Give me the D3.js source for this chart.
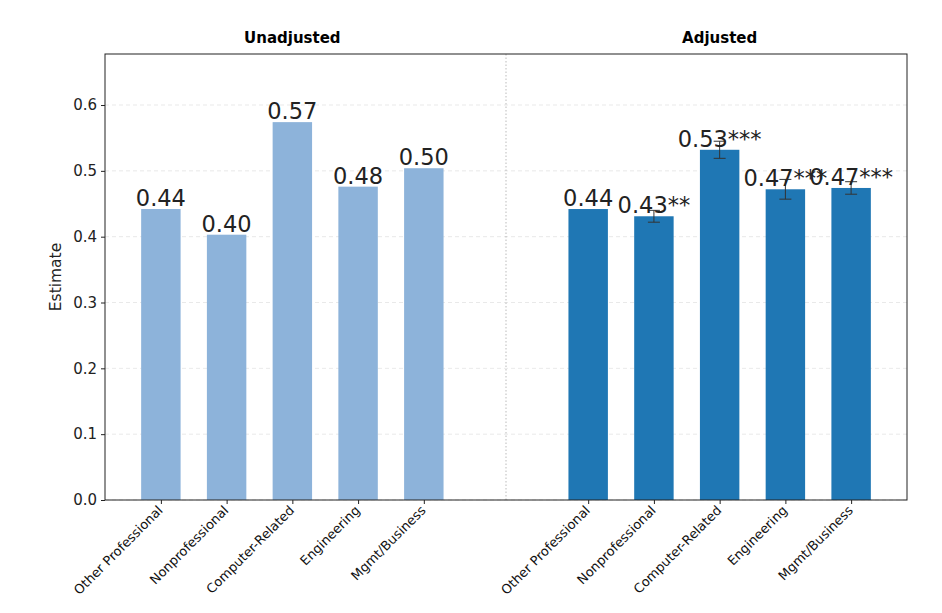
<!DOCTYPE html>
<html>
<head>
<meta charset="utf-8">
<script src="https://cdn.jsdelivr.net/npm/d3@7"></script>
<style>
  body { margin: 0; background: #fff; }
  svg { font-family: "DejaVu Sans", sans-serif; }
</style>
</head>
<body>
<div id="chart"></div>
<script>
// categories and values
const categories = ["Other Professional", "Nonprofessional", "Computer-Related", "Engineering", "Mgmt/Business"];
const unadjusted = [0.442, 0.403, 0.574, 0.476, 0.504];
const adjusted = [0.442, 0.431, 0.532, 0.472, 0.474];
const adjustedErr = [0, 0.009, 0.013, 0.015, 0.0095];
const adjustedStars = ["", "**", "***", "***", "***"];
const yTicks = [0.0, 0.1, 0.2, 0.3, 0.4, 0.5, 0.6];
const panelTitles = ["Unadjusted", "Adjusted"];

const width = 942, height = 613;
const margin = { top: 54, right: 35, bottom: 113, left: 105 };

const svg = d3.select("#chart").append("svg")
    .attr("width", width)
    .attr("height", height);

// positions: unadjusted at 0..4, adjusted at 6.5..10.5
const rows = [];
categories.forEach((c, i) => rows.push({ cat: c, pos: i, v: unadjusted[i], err: 0, label: unadjusted[i].toFixed(2), kind: "u" }));
categories.forEach((c, i) => rows.push({ cat: c, pos: i + 6.5, v: adjusted[i], err: adjustedErr[i], label: adjusted[i].toFixed(2) + adjustedStars[i], kind: "a" }));

const x = d3.scaleLinear()
    .domain([-0.85, 11.35])
    .range([margin.left, width - margin.right]);

const y = d3.scaleLinear()
    .domain([0, 0.6775])
    .range([height - margin.bottom, margin.top]);

const barW = (x(1) - x(0)) * 0.6;

// grid
svg.append("g")
    .selectAll("line")
    .data(yTicks)
    .join("line")
    .attr("x1", margin.left)
    .attr("x2", width - margin.right)
    .attr("y1", d => y(d))
    .attr("y2", d => y(d))
    .attr("stroke", "#e3e3e3")
    .attr("stroke-width", 0.8)
    .attr("stroke-dasharray", "4,3");

// divider
svg.append("line")
    .attr("x1", x(5.25)).attr("x2", x(5.25))
    .attr("y1", margin.top).attr("y2", height - margin.bottom)
    .attr("stroke", "#aaaaaa")
    .attr("stroke-width", 0.8)
    .attr("stroke-dasharray", "1.5,2");

// bars
svg.append("g")
    .selectAll("rect")
    .data(rows)
    .join("rect")
    .attr("x", d => x(d.pos) - barW / 2)
    .attr("width", barW)
    .attr("y", d => y(d.v))
    .attr("height", d => y(0) - y(d.v))
    .attr("fill", d => d.kind === "u" ? "#8db3da" : "#1f77b4");

// error bars
const eb = svg.append("g")
    .selectAll("g")
    .data(rows.filter(d => d.err > 0))
    .join("g")
    .attr("stroke", "#333")
    .attr("stroke-width", 1);
eb.append("line")
    .attr("x1", d => x(d.pos)).attr("x2", d => x(d.pos))
    .attr("y1", d => y(d.v - d.err)).attr("y2", d => y(d.v + d.err));
eb.append("line")
    .attr("x1", d => x(d.pos) - 6).attr("x2", d => x(d.pos) + 6)
    .attr("y1", d => y(d.v - d.err)).attr("y2", d => y(d.v - d.err));
eb.append("line")
    .attr("x1", d => x(d.pos) - 6).attr("x2", d => x(d.pos) + 6)
    .attr("y1", d => y(d.v + d.err)).attr("y2", d => y(d.v + d.err));

// value labels
svg.append("g")
    .selectAll("text")
    .data(rows)
    .join("text")
    .attr("x", d => x(d.pos))
    .attr("y", d => y(d.v) - 3)
    .attr("text-anchor", "middle")
    .attr("font-size", 22.5)
    .attr("fill", "#222")
    .text(d => d.label);

// y axis
const yAxis = svg.append("g")
    .attr("transform", `translate(${margin.left},0)`)
    .call(d3.axisLeft(y).tickValues(yTicks).tickFormat(d3.format(".1f")).tickSize(4).tickPadding(4));
yAxis.select(".domain").remove();
yAxis.selectAll("text").attr("font-size", 15).attr("fill", "#222").attr("font-family", "DejaVu Sans");
yAxis.selectAll("line").attr("stroke", "#222");

// x ticks and labels
const xAxis = svg.append("g")
    .attr("transform", `translate(0,${height - margin.bottom})`)
    .call(d3.axisBottom(x).tickValues(rows.map(d => d.pos)).tickFormat((d, i) => rows[i].cat).tickSize(4).tickPadding(3));
xAxis.select(".domain").remove();
xAxis.selectAll("line").attr("stroke", "#222");
xAxis.selectAll("text")
    .attr("font-size", 13)
    .attr("fill", "#111")
    .attr("font-family", "DejaVu Sans")
    .attr("text-anchor", "end")
    .attr("dy", "0.35em")
    .attr("transform", "translate(-6,3) rotate(-45)");

// frame
svg.append("rect")
    .attr("x", margin.left)
    .attr("y", margin.top)
    .attr("width", width - margin.left - margin.right)
    .attr("height", height - margin.top - margin.bottom)
    .attr("fill", "none")
    .attr("stroke", "#222")
    .attr("stroke-width", 1);

// panel titles
svg.selectAll(".ptitle")
    .data(panelTitles)
    .join("text")
    .attr("class", "ptitle")
    .attr("x", (d, i) => i === 0 ? x(2) : x(8.5))
    .attr("y", 43)
    .attr("text-anchor", "middle")
    .attr("font-size", 15)
    .attr("font-weight", "bold")
    .text(d => d);

// y label
svg.append("text")
    .attr("transform", `translate(61,${(margin.top + height - margin.bottom) / 2}) rotate(-90)`)
    .attr("text-anchor", "middle")
    .attr("font-size", 15.5)
    .attr("fill", "#222")
    .text("Estimate");
</script>
</body>
</html>
